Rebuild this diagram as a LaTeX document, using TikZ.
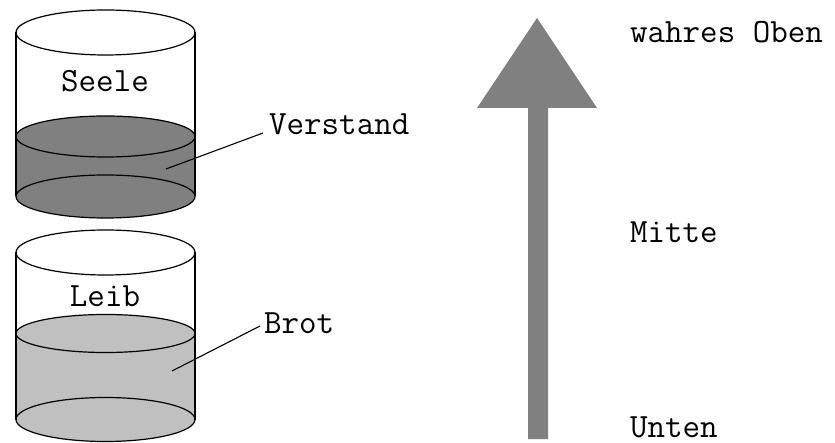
\documentclass[tikz,border=0pt]{standalone}
\usepackage{fontspec}
\definecolor{darkfill}{HTML}{808080}
\definecolor{lightfill}{HTML}{C0C0C0}
\definecolor{arrowgray}{HTML}{808080}
\tikzset{
  outline/.style={draw=black, line width=1.2pt},
  lbl/.style={font=\ttfamily\fontsize{34}{40}\selectfont, inner sep=0pt, anchor=base west},
  clbl/.style={font=\ttfamily\fontsize{34}{40}\selectfont, inner sep=0pt, anchor=base},
  leader/.style={draw=black, line width=1.1pt}
}
\begin{document}
\begin{tikzpicture}[x=1pt,y=-1pt]
\useasboundingbox (0,0) rectangle (835,443);
\fill[white] (0,0) rectangle (835,443);
% ---------- top cylinder (Seele) ----------
\fill[darkfill] (16,136.5) rectangle (195,196.5);
\fill[darkfill] (105.5,136.5) ellipse[x radius=89.5,y radius=20.5];
\fill[darkfill] (105.5,196.5) ellipse[x radius=89.5,y radius=21.5];
\draw[outline] (105.5,32.5) ellipse[x radius=89.5,y radius=22.5];
\draw[outline] (105.5,136.5) ellipse[x radius=89.5,y radius=20.5];
\draw[outline] (105.5,196.5) ellipse[x radius=89.5,y radius=21.5];
\draw[outline] (16,32.5) -- (16,196.5);
\draw[outline] (195,32.5) -- (195,196.5);
\node[clbl] (seele) at (105,92) {Seele};
\node[lbl] (verstand) at (269,135) {Verstand};
\coordinate (v0) at (166,169);
\coordinate (v1) at (263,133);
\draw[leader] (v0) -- (v1);
% ---------- bottom cylinder (Leib) ----------
\fill[lightfill] (16,333.5) rectangle (195,419.5);
\fill[lightfill] (105.5,333.5) ellipse[x radius=89.5,y radius=19];
\fill[lightfill] (105.5,419.5) ellipse[x radius=89.5,y radius=22];
\draw[outline] (105.5,252.5) ellipse[x radius=89.5,y radius=22.5];
\draw[outline] (105.5,333.5) ellipse[x radius=89.5,y radius=19];
\draw[outline] (105.5,419.5) ellipse[x radius=89.5,y radius=22];
\draw[outline] (16,252.5) -- (16,419.5);
\draw[outline] (195,252.5) -- (195,419.5);
\node[clbl] (leib) at (105,307) {Leib};
\node[lbl] (brot) at (264,334) {Brot};
\coordinate (b0) at (172,371);
\coordinate (b1) at (260,326);
\draw[leader] (b0) -- (b1);
% ---------- arrow ----------
\fill[arrowgray] (528,439) -- (528,108) -- (477,108) -- (537,18) -- (597,108) -- (548,108) -- (548,439) -- cycle;
\node[lbl] (oben) at (630,43) {wahres Oben};
\node[lbl] (mitte) at (630,243) {Mitte};
\node[lbl] (unten) at (630,437) {Unten};
\end{tikzpicture}
\end{document}
